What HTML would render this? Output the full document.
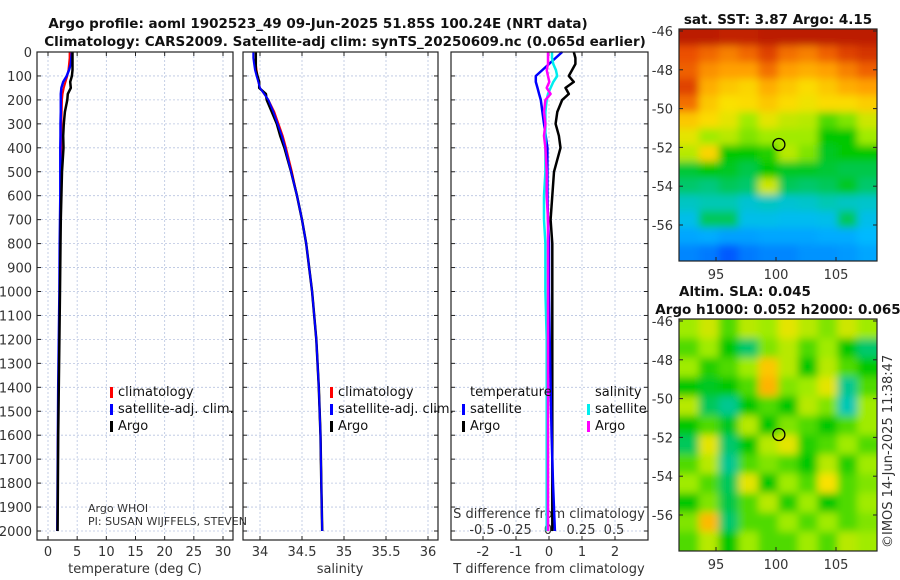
<!DOCTYPE html>
<html><head><meta charset="utf-8"><style>
body{margin:0;background:#fff}
svg{display:block;font-family:"DejaVu Sans","Liberation Sans",sans-serif}
.tk{font-size:13px;fill:#333}
.ti{font-size:13.5px;font-weight:bold;fill:#111}
.lg{font-size:13px;fill:#111}
</style></head><body>
<svg id="fig" width="900" height="580" viewBox="0 0 900 580">
<defs>
<filter id="bl" x="-20%" y="-20%" width="140%" height="140%"><feGaussianBlur stdDeviation="4"/></filter>
<clipPath id="c1"><rect x="679" y="29" width="198" height="232"/></clipPath>
<clipPath id="c2"><rect x="679" y="319" width="198" height="232"/></clipPath>
</defs>
<text class="ti" x="318" y="28" text-anchor="middle">Argo profile: aoml 1902523_49 09-Jun-2025 51.85S 100.24E (NRT data)</text>
<text class="ti" x="345" y="46" text-anchor="middle">Climatology: CARS2009. Satellite-adj clim: synTS_20250609.nc (0.065d earlier)</text>
<text class="ti" x="778" y="24" text-anchor="middle">sat. SST: 3.87 Argo: 4.15</text>
<text class="ti" x="745" y="296" text-anchor="middle">Altim. SLA: 0.045</text>
<text class="ti" x="778" y="314" text-anchor="middle">Argo h1000: 0.052 h2000: 0.065</text>
<text class="tk" transform="translate(892,548) rotate(-90)">©IMOS 14-Jun-2025 11:38:47</text>
<g id="plots"></g>
</svg>
<script>
const depths=[0,25,50,75,100,125,150,175,200,250,300,350,400,500,600,700,800,1000,1200,1400,1600,1800,2000];
const tClim=[3.7,3.7,3.6,3.5,3.3,3.0,2.7,2.5,2.4,2.35,2.3,2.3,2.3,2.25,2.2,2.15,2.1,2.0,1.9,1.8,1.7,1.65,1.6];
const tSat=[4.1,4.0,3.9,3.6,3.2,2.6,2.3,2.2,2.2,2.2,2.15,2.15,2.1,2.1,2.1,2.05,2.0,1.95,1.85,1.75,1.7,1.65,1.6];
const tArgo=[4.2,4.2,4.2,4.2,4.1,3.8,3.9,3.4,3.3,2.9,2.7,2.6,2.65,2.4,2.3,2.2,2.15,2.05,1.95,1.85,1.75,1.7,1.65];
const sClim=[33.95,33.95,33.95,33.96,33.97,33.98,34.0,34.05,34.1,34.17,34.22,34.27,34.31,34.38,34.44,34.5,34.55,34.62,34.67,34.7,34.72,34.73,34.74];
const sSat=[33.92,33.92,33.93,33.94,33.96,33.98,34.0,34.05,34.1,34.16,34.21,34.26,34.3,34.37,34.44,34.5,34.55,34.62,34.67,34.7,34.72,34.73,34.74];
const sArgo=[33.95,33.95,33.95,33.95,33.97,33.99,33.99,34.07,34.08,34.14,34.2,34.24,34.29,34.37,34.44,34.5,34.55,34.62,34.67,34.7,34.72,34.73,34.74];
const tDiffArgo=[0.75,0.8,0.8,0.7,0.6,0.75,0.5,0.6,0.4,0.25,0.2,0.3,0.35,0.15,0.1,0.05,0.1,0.1,0.1,0.1,0.1,0.1,0.1];
const tDiffSat=[0.4,0.2,0.0,-0.2,-0.4,-0.4,-0.35,-0.3,-0.25,-0.2,-0.15,-0.1,-0.05,-0.05,-0.05,-0.03,0,0,0.02,0.05,0.08,0.12,0.18];
const sDiffSat=[0.03,0.03,0.04,0.06,0.07,0.04,0.02,0.0,-0.01,-0.02,-0.02,-0.02,-0.02,-0.02,-0.03,-0.03,-0.02,-0.02,-0.01,-0.01,-0.01,-0.01,-0.01];
const sDiffArgo=[0.0,0.0,0.0,-0.01,0.0,0.01,-0.01,0.02,-0.02,-0.03,-0.02,-0.03,-0.02,-0.01,-0.01,0,0,0,0,0,0,0,0];
const depthTicks=[0,100,200,300,400,500,600,700,800,900,1000,1100,1200,1300,1400,1500,1600,1700,1800,1900,2000];
const tTicks=[0,5,10,15,20,25,30];
const sTicks=[34,34.5,35,35.5,36];
const tdTicks=[-2,-1,0,1,2];
const sdTickLabels=["-0.5","-0.25","0","0.25","0.5"];
const sdTicks=[-0.5,-0.25,0,0.25,0.5];
const latTicks=[-46,-48,-50,-52,-54,-56];
const lonTicks=[95,100,105];
const sstGrid=[
[.96,.96,.95,.95,.96,.96,.96,.96,.96,.96],
[.88,.85,.82,.85,.9,.84,.82,.86,.9,.92],
[.86,.8,.78,.78,.84,.78,.76,.78,.82,.86],
[.9,.76,.72,.7,.76,.72,.69,.72,.76,.78],
[.84,.72,.68,.69,.72,.69,.67,.69,.69,.71],
[.72,.69,.66,.6,.66,.63,.62,.55,.58,.64],
[.66,.6,.62,.58,.6,.6,.6,.5,.5,.6],
[.62,.7,.5,.5,.52,.62,.58,.48,.5,.5],
[.47,.5,.48,.46,.5,.48,.48,.47,.46,.46],
[.44,.43,.45,.44,.64,.45,.44,.45,.48,.44],
[.38,.4,.4,.36,.38,.36,.37,.4,.38,.37],
[.33,.45,.45,.33,.33,.32,.32,.33,.45,.33],
[.27,.28,.26,.26,.27,.27,.27,.28,.28,.3],
[.22,.2,.15,.2,.22,.22,.24,.24,.25,.27]];
const slaGrid=[
[.6,.64,.55,.62,.6,.66,.62,.58,.64,.6],
[.55,.6,.5,.44,.58,.62,.55,.6,.5,.44],
[.6,.52,.55,.6,.72,.62,.5,.62,.55,.5],
[.5,.48,.5,.55,.75,.58,.6,.66,.42,.55],
[.62,.45,.42,.5,.55,.5,.62,.58,.4,.6],
[.5,.55,.48,.62,.5,.58,.55,.5,.55,.6],
[.45,.66,.44,.5,.62,.66,.52,.55,.6,.55],
[.55,.62,.42,.55,.58,.55,.5,.62,.52,.6],
[.6,.55,.45,.66,.5,.6,.55,.68,.55,.58],
[.5,.58,.46,.55,.62,.52,.6,.5,.55,.6],
[.58,.74,.44,.55,.55,.6,.55,.6,.55,.58],
[.55,.62,.5,.6,.55,.55,.6,.55,.62,.6]];
const NS='http://www.w3.org/2000/svg';
const root=document.getElementById('plots');
function el(tag,attrs,parent){const e=document.createElementNS(NS,tag);for(const k in attrs)e.setAttribute(k,attrs[k]);(parent||root).appendChild(e);return e;}
const Y0=52,Y1=540;
const yD=d=>Y0+d*0.2395;
function lin(d0,d1,r0,r1){return v=>r0+(v-d0)*(r1-r0)/(d1-d0);}
const panels=[{x0:37,x1:233,name:'temperature-panel'},{x0:243,x1:438,name:'salinity-panel'},{x0:451,x1:648,name:'difference-panel'}];
const xT=lin(0,30,48,223), xS=lin(34,36,260,428), xTD=lin(0,1,549,582), xSD=lin(0,1,548,680);
function grid(p,xs,xfun){
  const g=el('g',{});
  
  
  depthTicks.forEach(d=>{el('line',{x1:p.x0,x2:p.x1,y1:yD(d),y2:yD(d),stroke:'#b8c4e0','stroke-width':0.8,'stroke-dasharray':'2,2'},g);
    el('line',{x1:p.x0,x2:p.x0+4,y1:yD(d),y2:yD(d),stroke:'#222'},g);el('line',{x1:p.x1,x2:p.x1-4,y1:yD(d),y2:yD(d),stroke:'#222'},g);});
  xs.forEach(v=>{const x=xfun(v);el('line',{x1:x,x2:x,y1:Y0,y2:Y1,stroke:'#b8c4e0','stroke-width':0.8,'stroke-dasharray':'2,2'},g);
    el('line',{x1:x,x2:x,y1:Y1,y2:Y1-4,stroke:'#222'},g);el('line',{x1:x,x2:x,y1:Y0,y2:Y0+4,stroke:'#222'},g);});
}
function frame(p){const r=el('rect',{x:p.x0,y:Y0,width:p.x1-p.x0,height:Y1-Y0,fill:'none',stroke:'#222','stroke-width':1.2});
  
  }
function line(vals,xfun,color,w,name){
  const pts=vals.map((v,i)=>xfun(v).toFixed(1)+','+yD(depths[i]).toFixed(1)).join(' ');
  const l=el('polyline',{points:pts,fill:'none',stroke:color,'stroke-width':w,'stroke-linejoin':'round'});
  
  
}
function txt(s,x,y,cls,anchor,name){const t=el('text',{x:x,y:y,class:cls,'text-anchor':anchor||'start'});t.textContent=s;
  
  return t;}
grid(panels[0],tTicks,xT);grid(panels[1],sTicks,xS);grid(panels[2],tdTicks,xTD);
depthTicks.forEach(d=>txt(String(d),32,yD(d)+5,'tk','end','depth-tick-label'));
tTicks.forEach(v=>txt(String(v),xT(v),556,'tk','middle','temperature-tick-label'));
sTicks.forEach(v=>txt(String(v),xS(v),556,'tk','middle','salinity-tick-label'));
tdTicks.forEach(v=>txt(String(v),xTD(v),556,'tk','middle','t-diff-tick-label'));
sdTicks.forEach((v,i)=>txt(sdTickLabels[i],xSD(v),534,'tk','middle','s-diff-tick-label'));
txt('temperature (deg C)',135,573,'tk','middle','temperature-axis-title');
txt('salinity',340,573,'tk','middle','salinity-axis-title');
txt('T difference from climatology',549,573,'tk','middle','t-diff-axis-title');
txt('S difference from climatology',549,518,'tk','middle','s-diff-axis-title');
line(tClim,xT,'#f00',2,'temp-climatology-line');line(tSat,xT,'#00f',2.5,'temp-satellite-line');line(tArgo,xT,'#000',2.5,'temp-argo-line');
line(sClim,xS,'#f00',2,'sal-climatology-line');line(sArgo,xS,'#000',2.5,'sal-argo-line');line(sSat,xS,'#00f',2,'sal-satellite-line');
line(tDiffArgo,xTD,'#000',2.5,'t-diff-argo-line');line(tDiffSat,xTD,'#00f',2.5,'t-diff-satellite-line');
line(sDiffSat,xSD,'#0ee',2.5,'s-diff-satellite-line');line(sDiffArgo,xSD,'#f0f',2.5,'s-diff-argo-line');
function leg(x,y,color,label,name){const b=el('rect',{x:x,y:y-9,width:3,height:11,fill:color});
  
  
  txt(label,x+8,y,'lg','start',name);}
leg(110,396,'#f00','climatology','legend-climatology');leg(110,413,'#00f','satellite-adj. clim.','legend-satellite');leg(110,430,'#000','Argo','legend-argo');
leg(330,396,'#f00','climatology','legend-climatology-2');leg(330,413,'#00f','satellite-adj. clim.','legend-satellite-2');leg(330,430,'#000','Argo','legend-argo-2');
txt('temperature',470,396,'lg','start','legend-temperature-header');txt('salinity',595,396,'lg','start','legend-salinity-header');
leg(462,413,'#00f','satellite','legend-t-satellite');leg(462,430,'#000','Argo','legend-t-argo');
leg(587,413,'#0ee','satellite','legend-s-satellite');leg(587,430,'#f0f','Argo','legend-s-argo');
txt('Argo WHOI',88,512,'tk','start','argo-institution').setAttribute('style','font-size:11px');
txt('PI: SUSAN WIJFFELS, STEVEN',88,525,'tk','start','argo-pi').setAttribute('style','font-size:11px');
panels.forEach(frame);
const cmapStops=[[0,[0,0,170]],[0.15,[0,90,255]],[0.3,[0,185,255]],[0.4,[0,200,180]],[0.5,[0,200,0]],[0.6,[160,235,0]],[0.68,[250,225,0]],[0.78,[255,160,0]],[0.88,[235,80,0]],[1,[165,0,0]]];
function cmap(v){
  for(let i=1;i<cmapStops.length;i++){const a=cmapStops[i-1],b=cmapStops[i];
    if(v<=b[0]){const t=(v-a[0])/(b[0]-a[0]);return 'rgb('+a[1].map((c,k)=>Math.round(c+(b[1][k]-c)*t)).join(',')+')';}}
  return 'rgb(165,0,0)';
}
function map(gridVals,y0,clip,name){
  const g=el('g',{'clip-path':'url(#'+clip+')'});
  
  
  const inner=el('g',{filter:'url(#bl)'},g);
  const rows=gridVals.length,cols=gridVals[0].length,cw=198/cols,ch=232/rows;
  for(let i=-1;i<=rows;i++)for(let j=-1;j<=cols;j++){
    const v=gridVals[Math.min(rows-1,Math.max(0,i))][Math.min(cols-1,Math.max(0,j))];
    el('rect',{x:679+j*cw,y:y0+i*ch,width:cw+0.5,height:ch+0.5,fill:cmap(v)},inner);}
  const lat=l=>y0+2+(-46-l)*19.4, lon=l=>716+(l-95)*12;
  const c=el('circle',{cx:lon(100.24),cy:lat(-51.85),r:6,fill:'none',stroke:'#000','stroke-width':1.3});
  
  
  el('rect',{x:679,y:y0,width:198,height:232,fill:'none',stroke:'#222','stroke-width':1.2});
  latTicks.forEach(l=>{txt(String(l),673,lat(l)+5,'tk','end',name+'-lat-label');el('line',{x1:877,x2:873,y1:lat(l),y2:lat(l),stroke:'#222'});el('line',{x1:679,x2:683,y1:lat(l),y2:lat(l),stroke:'#222'});});
  lonTicks.forEach(l=>{txt(String(l),lon(l),y0+250,'tk','middle',name+'-lon-label');el('line',{x1:lon(l),x2:lon(l),y1:y0+232,y2:y0+228,stroke:'#222'});});
}
map(sstGrid,29,'c1','sst-map');
map(slaGrid,319,'c2','sla-map');
</script>
</body></html>
